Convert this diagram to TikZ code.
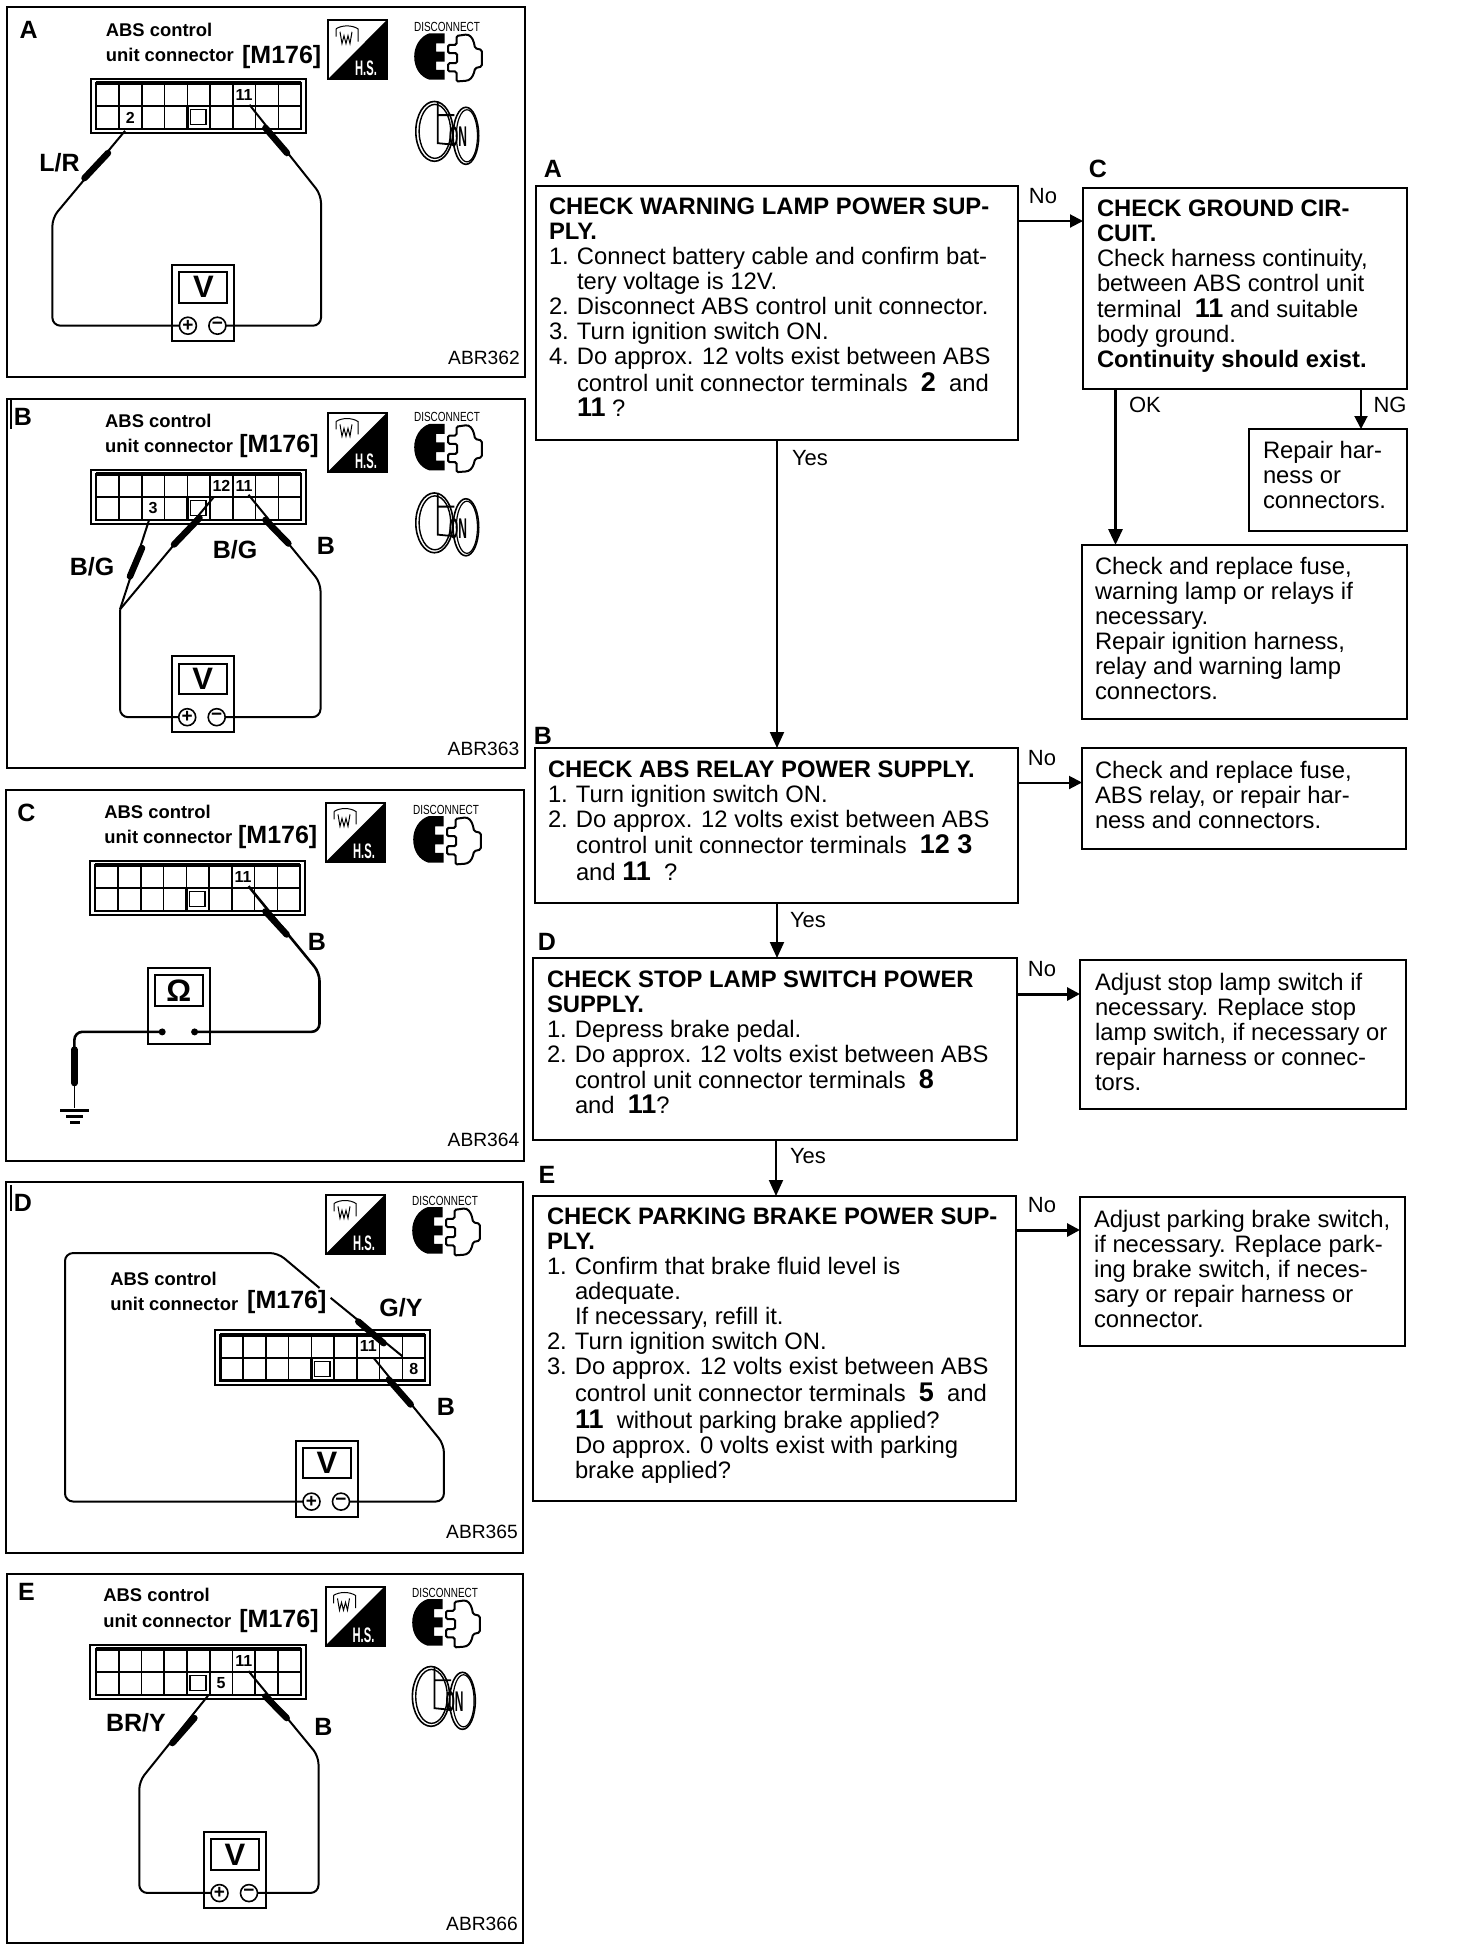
\documentclass[tikz,border=0pt]{standalone}
\usepackage{fontspec}
\usepackage{graphicx}
\setmainfont{Liberation Sans}
\usetikzlibrary{arrows.meta,calc}
\newdimen\pxu \pxu=0.5pt
\newcommand\bodyfont{\fontsize{11.9}{12.5}\selectfont}
\newcommand\dg[1]{{\fontsize{13.5}{12.5}\selectfont\bfseries #1}}
\newcommand\hd[1]{{\bfseries #1}}
\newcommand\nl[1]{\makebox[28\pxu][l]{#1}}
\newcommand\ind{\hspace*{28\pxu}}
\tikzset{
  flowbox/.style={draw,line width=2\pxu,outer sep=0pt,anchor=north west,fill=white},
  arr/.style={line width=2\pxu,-{Triangle[length=6.5pt,width=6.5pt]}},
  arrbig/.style={line width=2\pxu,-{Triangle[length=8pt,width=7pt]}},
  frame/.style={draw,line width=2.5\pxu,outer sep=0pt,inner sep=0pt,anchor=north west},
  flow/.style={inner sep=0pt,font=\fontsize{11}{12}\selectfont},
  steplet/.style={inner sep=0pt,font=\fontsize{12.5}{14}\selectfont\bfseries},
  panlet/.style={inner sep=0pt,font=\fontsize{12.5}{14}\selectfont\bfseries},
  titl/.style={inner sep=0pt,anchor=west,font=\fontsize{9.2}{11}\selectfont\bfseries},
  mcode/.style={inner sep=0pt,anchor=west,font=\fontsize{12.5}{14}\selectfont\bfseries},
  wlab/.style={inner sep=0pt,font=\fontsize{12.5}{14}\selectfont\bfseries},
  figid/.style={inner sep=0pt,font=\fontsize{9.6}{11}\selectfont},
  cellnum/.style={inner sep=0pt,font=\fontsize{8}{9}\selectfont\bfseries},
  wire/.style={line width=2\pxu,rounded corners=8\pxu},
  probe/.style={line width=6.5\pxu,line cap=round},
  gline/.style={line width=1.6\pxu},
  termc/.style={circle,draw,line width=1.6\pxu,minimum size=17\pxu,inner sep=0pt,outer sep=0pt,fill=white,font=\fontsize{9.5}{10}\selectfont\bfseries},
  meterbox/.style={draw,line width=2\pxu,anchor=north west,minimum width=62\pxu,minimum height=76\pxu,inner sep=0pt,outer sep=0pt},
  dispbox/.style={draw,line width=2\pxu,anchor=north west,minimum width=48\pxu,minimum height=30.5\pxu,inner sep=0pt,outer sep=0pt,font=\fontsize{15.5}{16}\selectfont\bfseries},
  connbox/.style={draw,line width=2\pxu,anchor=north west,minimum width=215.5\pxu,minimum height=54.2\pxu,inner sep=0pt,outer sep=0pt}
}
\newcommand\panelscope[1]{[shift={(0,#1)},yscale=0.984,shift={(0,-#1)}]}
% connector: prefix, x, y
\newcommand\connector[3]{%
  \begin{scope}[shift={(#2,#3)}]
    \node[connbox] (#1conn) at (0,0) {};
    \draw[gline,line width=2.2\pxu] (5.7,4.5) rectangle (210.4,51);
    \draw[line width=3.5\pxu] (5.7,4.5) -- (210.4,4.5);
    \draw[gline] (5.7,27.75) -- (210.4,27.75);
    \foreach \i in {1,...,8} {\draw[gline] ({5.7+\i*22.75},4.5) -- ({5.7+\i*22.75},51);}
    \draw[line width=2.4\pxu] (96.7,27.75) rectangle (119.45,51);
    \draw[line width=1.5\pxu] (99.7,31.5) rectangle (115.5,46.7);
  \end{scope}}
% number in cell: prefix, connector x, y, col, row, text
\newcommand\cellno[6]{\node[cellnum] (#1n#6) at ({#2+5.7+(#4-.5)*22.75},{#3+4.5+(#5-.5)*23.25}) {#6};}
% meter
\newcommand\meter[4]{%
  \begin{scope}[shift={(#2,#3)}]
    \node[meterbox] (#1meter) at (0,0) {};
    \node[dispbox] (#1disp) at (7,7.5) {#4};
    \node[termc] (#1plus) at (15.5,62) {+};
    \node[termc] (#1minus) at (45,62) {−};
  \end{scope}}
\newcommand\ohmmeter[3]{%
  \begin{scope}[shift={(#2,#3)}]
    \node[meterbox] (#1meter) at (0,0) {};
    \node[dispbox] (#1disp) at (7,7.5) {Ω};
    \node[circle,fill=black,minimum size=7\pxu,inner sep=0pt] (#1plus) at (14.5,65) {};
    \node[circle,fill=black,minimum size=7\pxu,inner sep=0pt] (#1minus) at (46.9,65) {};
  \end{scope}}
% H.S. badge
\newcommand\hsicon[3]{%
  \begin{scope}[shift={(#2,#3)}]
    \fill (59,0) -- (59,60) -- (0,60) -- cycle;
    \draw[line width=2\pxu] (0,0) rectangle (59,60);
    \node[inner sep=0pt,text=white,font=\fontsize{7}{8}\selectfont\bfseries] (#1hs) at (38,49) {\scalebox{.8}[1.5]{H.S.}};
    \draw[line width=1\pxu] (8,9) -- (8,17) (8,9) .. controls (14,5) and (24,5) .. (30,9) -- (30,22)
      (12,12) -- (14,24) -- (16,16) -- (18,24) -- (20,16) -- (22,24) -- (24,12);
  \end{scope}}
% disconnect icon: centre of its word
\newcommand\discon[3]{%
  \begin{scope}[shift={(#2,#3)}]
    \node[inner sep=0pt,font=\fontsize{6}{7}\selectfont] (#1dis) at (0,0) {\scalebox{.83}[1.1]{DISCONNECT}};
    \fill (-2.4,6.8) -- (-17.6,6.8) .. controls (-27,10) and (-32.8,20) .. (-32.8,30.4)
      .. controls (-32.8,42) and (-27,51) .. (-17.6,54) -- (-2.4,54) -- (-2.4,44) -- (-10.8,44) -- (-10.8,35.5) -- (-2.4,35.5)
      -- (-2.4,25.4) -- (-10.8,25.4) -- (-10.8,17) -- (-2.4,17) -- cycle;
    \draw[line width=2\pxu,rounded corners=1.5\pxu] (9.5,9.5) -- (20,8) .. controls (25,10) and (27,15) .. (28,22) -- (34.8,23.7) -- (34.8,40.6) -- (28,42.3)
      .. controls (27,48) and (25,53) .. (20,55) -- (9.5,55.8) -- (9.5,45.6) -- (1,45.6) -- (1,37.2) -- (10,37.2) -- (10,27) -- (1,27) -- (1,18.6) -- (9.5,18.6) -- cycle;
  \end{scope}}
% ignition key
\newcommand\keyicon[3]{%
  \begin{scope}[shift={(#2,#3)}]
    \draw[line width=1.6\pxu] (0,0) ellipse [x radius=18.6,y radius=30.4];
    \draw[line width=1.4\pxu] (0.5,0) ellipse [x radius=15.8,y radius=27.4];
    \draw[line width=1.6\pxu] (31.5,4.5) ellipse [x radius=12.8,y radius=29];
    \draw[line width=1.2\pxu] (32.5,4.5) ellipse [x radius=10.6,y radius=26.5];
    \draw[line width=1.8\pxu] (3.4,-30) -- (3.4,12) -- (18.6,13.5) (3.4,-16.5) -- (20,-16.5);
    \node[inner sep=0pt,font=\fontsize{7.5}{8}\selectfont\bfseries] (#1on) at (23.6,5.5) {\scalebox{.8}[1.9]{ON}};
  \end{scope}}
% flow box: name,x,y,w,h,padx,pady,text
\newcommand\flowboxn[8]{%
  \node[flowbox,inner xsep=#6\pxu,inner ysep=#7\pxu] (#1) at (#2,#3)
   {\parbox[t][\dimexpr #5\pxu-#7\pxu*2\relax][t]{\dimexpr #4\pxu-#6\pxu*2\relax}{\bodyfont\raggedright #8}};}
\begin{document}
\begin{tikzpicture}[x=0.5pt,y=-0.5pt]
\useasboundingbox (0,0) rectangle (1472,1950);
\fill[white] (0,0) rectangle (1472,1950);

%%% PANEL A
\begin{scope}[shift={(0,0)},yscale=0.984,shift={(0,0)}]
\node[frame,minimum width=518\pxu,minimum height=370\pxu] (Apanel) at (7,7) {};
\node[panlet] (Alet) at (28.7,30) {A};
\node[titl] (At1) at (105.5,30) {ABS control};
\node[titl] (At2) at (105.5,56) {unit connector};
\node[mcode] (At3) at (241.7,57.5) {[M176]};
\hsicon{A}{328}{20.3}
\discon{A}{447}{27}
\keyicon{A}{434.4}{133.5}
\connector{A}{90.6}{80}
\cellno{A}{90.6}{80}{7}{1}{11}
\cellno{A}{90.6}{80}{2}{2}{2}
\meter{A}{172.4}{269}{V}
\coordinate (Atip2) at (125,133);
\coordinate (Ab1) at (52.4,221.4);
\coordinate (Atip11) at (249.5,106.5);
\coordinate (Ab2) at (321,198);
\draw[wire] (Atip2) -- (Ab1) -- (Ab1 |- Aplus.west) -- (Aplus.west);
\draw[wire] (Atip11) -- (Ab2) -- (Ab2 |- Aminus.east) -- (Aminus.east);
\draw[probe] (84.5,181) -- (108,155.5);
\draw[probe] (265.4,130) -- (287,155.5);
\node[wlab] (Al1) at (59.6,165.6) {L/R};
\node[figid] (Aid) at (484,363.4) {ABR362};
\end{scope}

%%% PANEL B
\begin{scope}[shift={(0,390)},yscale=0.984,shift={(0,-390)}]
\node[frame,minimum width=518\pxu,minimum height=369\pxu] (Bpanel) at (7,399) {};
\draw[line width=1.5\pxu] (11,400) -- (11,430);
\node[panlet] (Blet) at (23,417) {B};
\node[titl] (Bt1) at (104.8,421) {ABS control};
\node[titl] (Bt2) at (104.8,446.5) {unit connector};
\node[mcode] (Bt3) at (239,447) {[M176]};
\hsicon{B}{328}{413}
\discon{B}{447}{417.7}
\keyicon{B}{434.4}{525}
\connector{B}{90.6}{471}
\cellno{B}{90.6}{471}{6}{1}{12}
\cellno{B}{90.6}{471}{7}{1}{11}
\cellno{B}{90.6}{471}{3}{2}{3}
\meter{B}{171.7}{660.5}{V}
\coordinate (Btip3) at (148.8,523);
\coordinate (Btip12) at (213.7,499);
\coordinate (Btip11) at (248.5,496.5);
\coordinate (Bb1) at (120,613);
\coordinate (Bb2) at (320.5,586);
\draw[wire] (Btip3) -- (Bb1);
\draw[wire] (Btip12) -- (Bb1);
\draw[wire] (Bb1) -- (Bb1 |- Bplus.west) -- (Bplus.west);
\draw[wire] (Btip11) -- (Bb2) -- (Bb2 |- Bminus.east) -- (Bminus.east);
\draw[probe] (130,579.3) -- (142,550.6);
\draw[probe] (174,547) -- (199.5,520);
\draw[probe] (265.4,522) -- (288.4,546);
\node[wlab] (Bl1) at (92,570) {B/G};
\node[wlab] (Bl2) at (235,552) {B/G};
\node[wlab] (Bl3) at (326,548) {B};
\node[figid] (Bid) at (483.5,754.4) {ABR363};
\end{scope}

%%% PANEL C
\begin{scope}[shift={(0,780)},yscale=0.984,shift={(0,-780)}]
\node[frame,minimum width=518\pxu,minimum height=371\pxu] (Cpanel) at (6,790) {};
\node[panlet] (Clet) at (26.4,813) {C};
\node[titl] (Ct1) at (104,812) {ABS control};
\node[titl] (Ct2) at (104,838) {unit connector};
\node[mcode] (Ct3) at (237.7,838) {[M176]};
\hsicon{C}{326}{803}
\discon{C}{446}{810}
\connector{C}{89.6}{862}
\cellno{C}{89.6}{862}{7}{1}{11}
\ohmmeter{C}{147.7}{971}
\coordinate (Ctip11) at (248.5,888);
\coordinate (Cb1) at (319.5,976);
\coordinate (Cb2) at (74.4,1054);
\coordinate (Ctipg) at (74.4,1113);
\draw[wire,line width=2.6\pxu] (Ctip11) -- (Cb1) -- (Cb1 |- Cminus.center) -- (Cminus.center);
\draw[wire,line width=2.6\pxu] (Cplus.center) -- (Cb2 |- Cplus.center) -- (Cb2);
\draw[probe] (Cb2) -- (74.4,1088);
\draw[line width=1.5\pxu] (74.4,1088) -- (Ctipg);
\draw[line width=3\pxu] (60,1116) -- (88.6,1116) (66,1122) -- (83,1122) (70,1128) -- (79.5,1128);
\draw[probe] (265.4,913.5) -- (286.7,937);
\node[wlab] (Cl1) at (317,945) {B};
\node[figid] (Cid) at (483.5,1146) {ABR364};
\end{scope}

%%% PANEL D
\begin{scope}[shift={(0,1170)},yscale=0.984,shift={(0,-1170)}]
\node[frame,minimum width=517\pxu,minimum height=371\pxu] (Dpanel) at (6,1182) {};
\draw[line width=1.5\pxu] (11,1185) -- (11,1212);
\node[panlet] (Dlet) at (23,1203) {D};
\hsicon{D}{326}{1195}
\discon{D}{445}{1201}
\node[titl] (Dt1) at (110,1280.5) {ABS control};
\node[titl] (Dt2) at (110,1306) {unit connector};
\node[mcode] (Dt3) at (246.8,1304) {[M176]};
\connector{D}{214.7}{1333}
\cellno{D}{214.7}{1333}{7}{1}{11}
\cellno{D}{214.7}{1333}{9}{2}{8}
\meter{D}{296}{1445}{V}
\coordinate (Db1) at (65,1254.5);
\coordinate (Db2) at (278,1254.5);
\coordinate (Dgap1) at (319.5,1290);
\coordinate (Dgap2) at (330.6,1300);
\coordinate (Dtip8) at (402.3,1359.3);
\coordinate (Dtip11) at (373.6,1361);
\coordinate (Db3) at (443.9,1449);
\draw[wire] (Dplus.west) -- (Db1 |- Dplus.west) -- (Db1) -- (Db2) -- (Dgap1);
\draw[wire] (Dgap2) -- (Dtip8);
\draw[wire] (Dtip11) -- (Db3) -- (Db3 |- Dminus.east) -- (Dminus.east);
\draw[probe] (358.3,1324) -- (383.7,1346);
\draw[probe] (388.8,1383) -- (410.7,1408.3);
\node[wlab] (Dl1) at (401,1310) {G/Y};
\node[wlab] (Dl2) at (446,1411) {B};
\node[figid] (Did) at (482,1538) {ABR365};
\end{scope}

%%% PANEL E
\begin{scope}[shift={(0,1560)},yscale=0.984,shift={(0,-1560)}]
\node[frame,minimum width=516\pxu,minimum height=369\pxu] (Epanel) at (7,1574) {};
\node[panlet] (Elet) at (26.4,1592) {E};
\node[titl] (Et1) at (103,1595.5) {ABS control};
\node[titl] (Et2) at (103,1621.5) {unit connector};
\node[mcode] (Et3) at (239,1621.5) {[M176]};
\hsicon{E}{325.5}{1587}
\discon{E}{445}{1593}
\keyicon{E}{431}{1698.6}
\connector{E}{90.3}{1646}
\cellno{E}{90.3}{1646}{7}{1}{11}
\cellno{E}{90.3}{1646}{6}{2}{5}
\meter{E}{204}{1836.5}{V}
\coordinate (Etip5) at (208,1698);
\coordinate (Eb1) at (139.3,1785);
\coordinate (Etip11) at (248.5,1673);
\coordinate (Eb2) at (318.5,1759.5);
\draw[wire] (Etip5) -- (Eb1) -- (Eb1 |- Eplus.west) -- (Eplus.west);
\draw[wire] (Etip11) -- (Eb2) -- (Eb2 |- Eminus.east) -- (Eminus.east);
\draw[probe] (172.4,1746) -- (194.4,1720.6);
\draw[probe] (265.4,1698.6) -- (286.7,1720.6);
\node[wlab] (El1) at (136,1725) {BR/Y};
\node[wlab] (El2) at (323.5,1730) {B};
\node[figid] (Eid) at (482,1930) {ABR366};
\end{scope}

%%% FLOW CHART
\flowboxn{fA}{536}{186}{482}{254}{13}{12}{%
\hd{CHECK WARNING LAMP POWER SUP-}\\
\hd{PLY.}\\
\nl{1.}Connect battery cable and confirm bat-\\
\ind tery voltage is 12V.\\
\nl{2.}Disconnect ABS control unit connector.\\
\nl{3.}Turn ignition switch ON.\\
\nl{4.}Do approx. 12 volts exist between ABS\\[2\pxu]
\ind control unit connector terminals \ \dg{2}\ \ and\\
\ind \dg{11} ?}
\flowboxn{fC}{1083}{188}{324}{201}{14}{12}{%
\hd{CHECK GROUND CIR-}\\
\hd{CUIT.}\\
Check harness continuity,\\
between ABS control unit\\[1\pxu]
terminal \ \dg{11} and suitable\\
body ground.\\
\hd{Continuity should exist.}}
\flowboxn{fRep}{1249}{429}{158}{102}{14}{12}{%
Repair har-\\ness or\\connectors.}
\flowboxn{fChk}{1082}{545}{325}{174}{13}{12}{%
Check and replace fuse,\\
warning lamp or relays if\\
necessary.\\
Repair ignition harness,\\
relay and warning lamp\\
connectors.}
\flowboxn{fB}{535}{748}{483}{155}{13}{13}{%
\hd{CHECK ABS RELAY POWER SUPPLY.}\\
\nl{1.}Turn ignition switch ON.\\
\nl{2.}Do approx. 12 volts exist between ABS\\[1\pxu]
\ind control unit connector terminals \ \dg{12 3}\\[2\pxu]
\ind and \dg{11} \ ?}
\flowboxn{fBr}{1082}{748}{324}{101}{13}{13}{%
Check and replace fuse,\\
ABS relay, or repair har-\\
ness and connectors.}
\flowboxn{fD}{533}{958}{484}{182}{14}{13}{%
\hd{CHECK STOP LAMP SWITCH POWER}\\
\hd{SUPPLY.}\\
\nl{1.}Depress brake pedal.\\
\nl{2.}Do approx. 12 volts exist between ABS\\[1\pxu]
\ind control unit connector terminals \ \dg{8}\\
\ind and \ \dg{11}?}
\flowboxn{fDr}{1080}{960}{326}{149}{15}{13}{%
Adjust stop lamp switch if\\
necessary. Replace stop\\
lamp switch, if necessary or\\
repair harness or connec-\\
tors.}
\flowboxn{fE}{533}{1196}{483}{305}{14}{12}{%
\hd{CHECK PARKING BRAKE POWER SUP-}\\
\hd{PLY.}\\
\nl{1.}Confirm that brake fluid level is\\
\ind adequate.\\
\ind If necessary, refill it.\\
\nl{2.}Turn ignition switch ON.\\
\nl{3.}Do approx. 12 volts exist between ABS\\[2\pxu]
\ind control unit connector terminals \ \dg{5}\ \ and\\[2\pxu]
\ind \dg{11}\ \ without parking brake applied?\\
\ind Do approx. 0 volts exist with parking\\
\ind brake applied?}
\flowboxn{fEr}{1080}{1197}{325}{149}{14}{13}{%
Adjust parking brake switch,\\
if necessary. Replace park-\\
ing brake switch, if neces-\\
sary or repair harness or\\
connector.}

\node[steplet] (lA) at (553,169) {A};
\node[steplet] (lC) at (1098,169) {C};
\node[steplet] (lB) at (543,736) {B};
\node[steplet] (lD) at (547,942) {D};
\node[steplet] (lE) at (547,1175) {E};

\draw[arr] ([yshift=-35\pxu]fA.north east) -- ([yshift=-33\pxu]fC.north west);
\draw[arrbig] ([xshift=241\pxu]fA.south west) -- ([xshift=242\pxu]fB.north west);
\draw[arrbig,line width=3\pxu] ([xshift=32.5\pxu]fC.south west) -- ([xshift=33.5\pxu]fChk.north west);
\draw[arr] ([xshift=-46\pxu]fC.south east) -- ([xshift=-46\pxu]fRep.north east);
\draw[arr] ([yshift=-34.5\pxu]fB.north east) -- ([yshift=-34.5\pxu]fBr.north west);
\draw[arrbig] ([xshift=242\pxu]fB.south west) -- ([xshift=244\pxu]fD.north west);
\draw[arr,line width=3\pxu] ([yshift=-36\pxu]fD.north east) -- ([yshift=-34\pxu]fDr.north west);
\draw[arrbig] ([xshift=243\pxu]fD.south west) -- ([xshift=243\pxu]fE.north west);
\draw[arr,line width=3\pxu] ([yshift=-34\pxu]fE.north east) -- ([yshift=-33\pxu]fEr.north west);

\node[flow] (tN1) at (1043,196) {No};
\node[flow] (tY1) at (810,458) {Yes};
\node[flow] (tOK) at (1145,405) {OK};
\node[flow] (tNG) at (1390,405) {NG};
\node[flow] (tN2) at (1042,758) {No};
\node[flow] (tY2) at (808,920) {Yes};
\node[flow] (tN3) at (1042,969) {No};
\node[flow] (tY3) at (808,1156) {Yes};
\node[flow] (tN4) at (1042,1205.5) {No};
\end{tikzpicture}
\end{document}
